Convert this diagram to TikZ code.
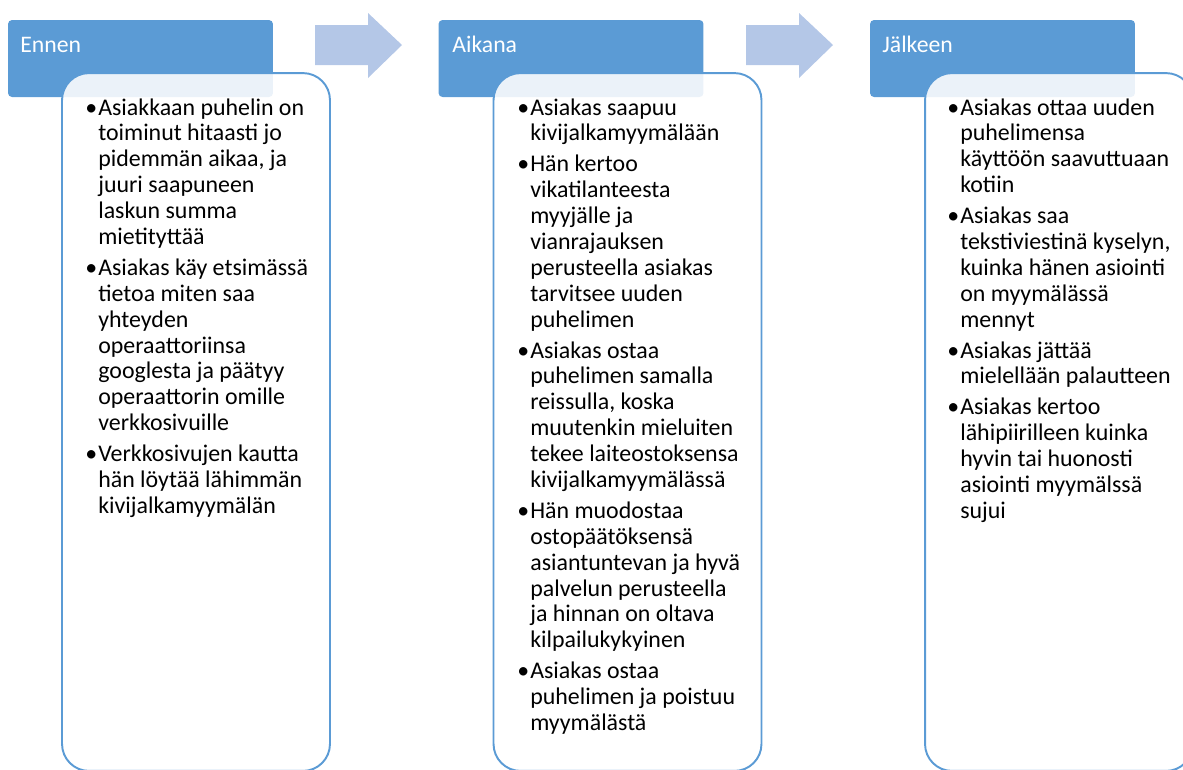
\documentclass[tikz,border=0pt]{standalone}
\usepackage{fontspec}
\setmainfont{Carlito}
\usetikzlibrary{positioning}

\definecolor{hdrblue}{HTML}{5B9BD5}
\definecolor{arrblue}{HTML}{B4C7E7}

\newcommand{\stepfont}{\fontsize{13.6}{14.74}\selectfont}
\newcommand{\gapline}{\\[2.83pt]}

\begin{document}
\begin{tikzpicture}[
    x=0.02cm, y=-0.02cm,
    hdr/.style={fill=hdrblue, draw=none, rounded corners=0.08cm, minimum width=5.3cm, minimum height=1.54cm, inner sep=0pt},
    hdrtext/.style={anchor=base west, inner sep=0pt, text=white, font=\fontsize{13.5}{15}\selectfont},
    body/.style={draw=hdrblue, line width=1.1pt, fill=white, fill opacity=0.88, rounded corners=0.54cm, minimum width=5.36cm, minimum height=13.96cm, inner sep=0pt},
    bodytext/.style={anchor=base west, inner sep=0pt, align=left, font=\stepfont},
    flow/.style={fill=arrblue, draw=none}
]
    \useasboundingbox (0,0) rectangle (1183,769);

    % Headers
    \node[hdr] (h1) at (140.5,58.5) {};
    \node[hdr] (h2) at (571,58.5) {};
    \node[hdr] (h3) at (1002.5,58.5) {};

    % Bodies
    \node[body] (b1) at (196,422) {};
    \node[body] (b2) at (627.5,422) {};
    \node[body] (b3) at (1059,422) {};

    % Header labels
    \node[hdrtext] (t1) at (20,52) {Ennen};
    \node[hdrtext] (t2) at (452,52) {Aikana};
    \node[hdrtext] (t3) at (882,52) {Jälkeen};

    % Flow arrows
    \fill[flow] (315,25) -- (368,25) -- (368,13) -- (402,45) -- (368,78) -- (368,65) -- (315,65) -- cycle;
    \fill[flow] (746,25) -- (799,25) -- (799,13) -- (833,45) -- (799,78) -- (799,65) -- (746,65) -- cycle;

    % Before
    \node[bodytext] (l1) at (85,115) {\begin{tabular}[t]{@{}l@{\hspace{0.6pt}}l@{}}
        \textbullet & Asiakkaan puhelin on\\
        & toiminut hitaasti jo\\
        & pidemmän aikaa, ja\\
        & juuri saapuneen\\
        & laskun summa\\
        & mietityttää\gapline
        \textbullet & Asiakas käy etsimässä\\
        & tietoa miten saa\\
        & yhteyden\\
        & operaattoriinsa\\
        & googlesta ja päätyy\\
        & operaattorin omille\\
        & verkkosivuille\gapline
        \textbullet & Verkkosivujen kautta\\
        & hän löytää lähimmän\\
        & kivijalkamyymälän
    \end{tabular}};

    % During
    \node[bodytext] (l2) at (517,115) {\begin{tabular}[t]{@{}l@{\hspace{0.6pt}}l@{}}
        \textbullet & Asiakas saapuu\\
        & kivijalkamyymälään\gapline
        \textbullet & Hän kertoo\\
        & vikatilanteesta\\
        & myyjälle ja\\
        & vianrajauksen\\
        & perusteella asiakas\\
        & tarvitsee uuden\\
        & puhelimen\gapline
        \textbullet & Asiakas ostaa\\
        & puhelimen samalla\\
        & reissulla, koska\\
        & muutenkin mieluiten\\
        & tekee laiteostoksensa\\
        & kivijalkamyymälässä\gapline
        \textbullet & Hän muodostaa\\
        & ostopäätöksensä\\
        & asiantuntevan ja hyvä\\
        & palvelun perusteella\\
        & ja hinnan on oltava\\
        & kilpailukykyinen\gapline
        \textbullet & Asiakas ostaa\\
        & puhelimen ja poistuu\\
        & myymälästä
    \end{tabular}};

    % After
    \node[bodytext] (l3) at (947,115) {\begin{tabular}[t]{@{}l@{\hspace{0.6pt}}l@{}}
        \textbullet & Asiakas ottaa uuden\\
        & puhelimensa\\
        & käyttöön saavuttuaan\\
        & kotiin\gapline
        \textbullet & Asiakas saa\\
        & tekstiviestinä kyselyn,\\
        & kuinka hänen asiointi\\
        & on myymälässä\\
        & mennyt\gapline
        \textbullet & Asiakas jättää\\
        & mielellään palautteen\gapline
        \textbullet & Asiakas kertoo\\
        & lähipiirilleen kuinka\\
        & hyvin tai huonosti\\
        & asiointi myymälssä\\
        & sujui
    \end{tabular}};
\end{tikzpicture}
\end{document}
